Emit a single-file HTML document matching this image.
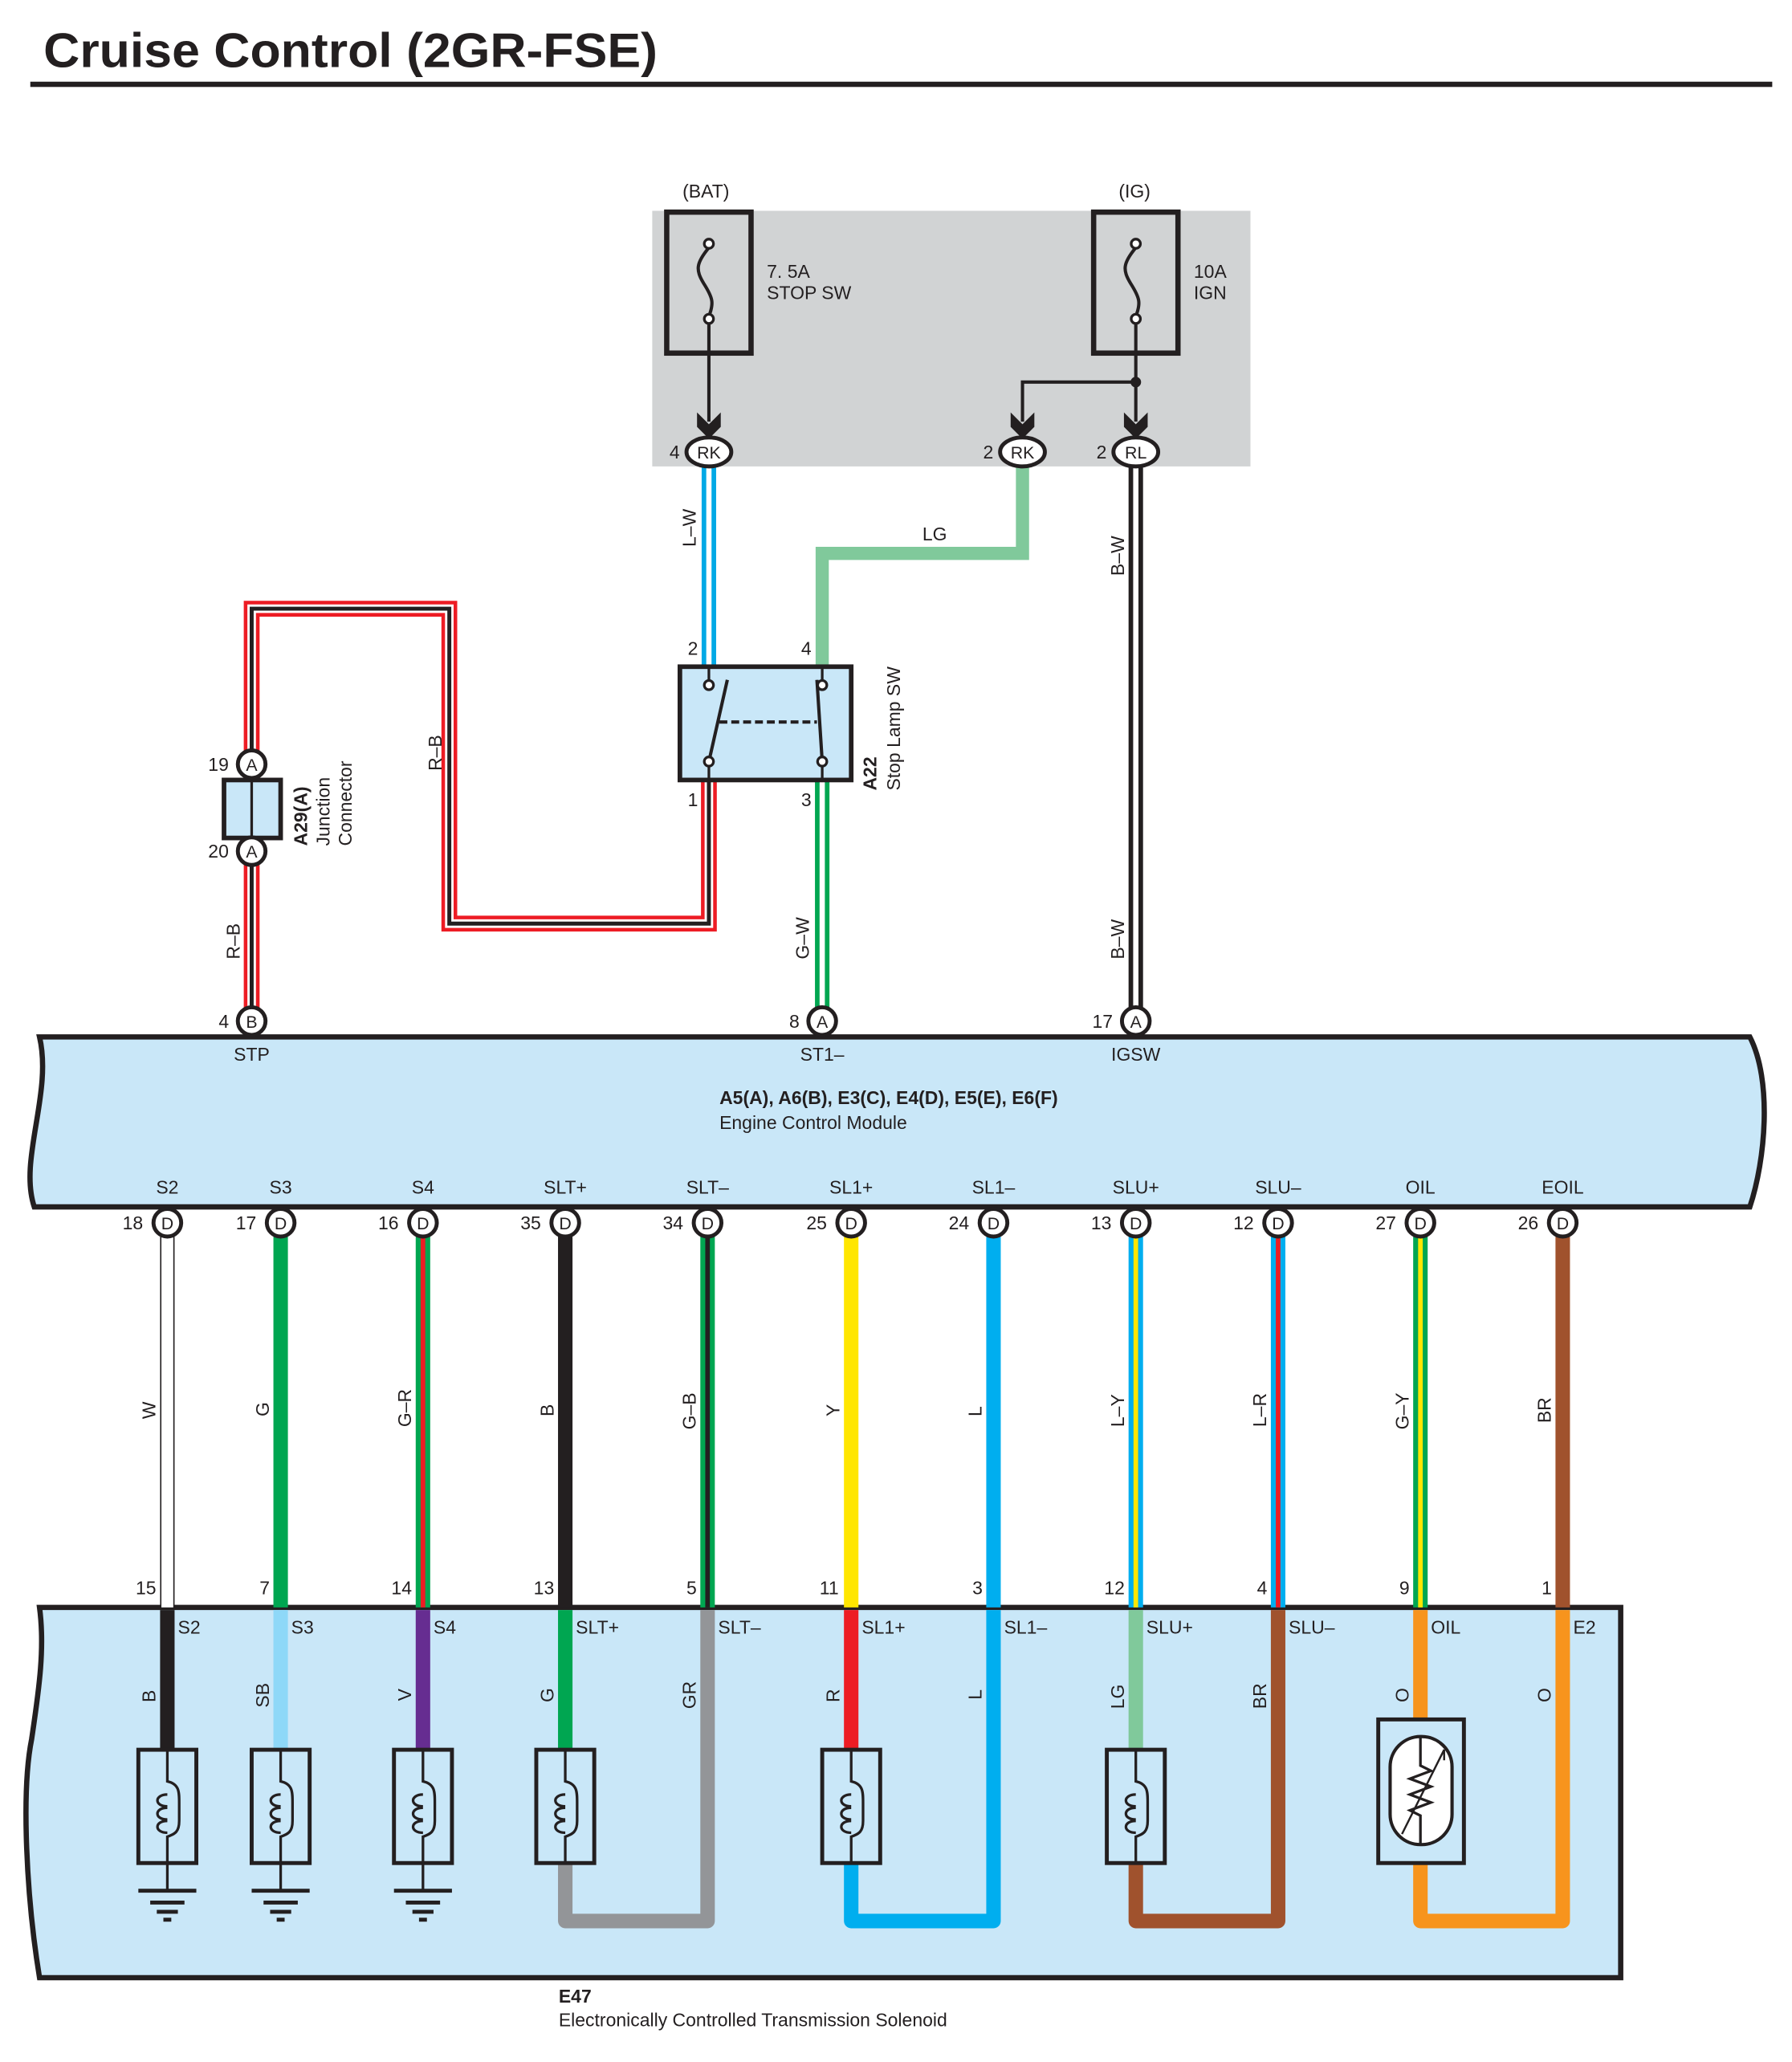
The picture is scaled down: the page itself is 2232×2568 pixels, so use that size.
<!DOCTYPE html>
<html><head><meta charset="utf-8"><style>
html,body{margin:0;padding:0;background:#fff;}
svg{display:block;}
text{font-family:"Liberation Sans",sans-serif;fill:#231f20;}
.t{font-size:14px;}
.c{font-size:13px;text-anchor:middle;}
</style></head><body>
<svg width="2232" height="2568" viewBox="0 0 1360 1565" preserveAspectRatio="none" xmlns="http://www.w3.org/2000/svg">
<defs>
<g id="conn"><circle r="10.5" fill="#fff" stroke="#231f20" stroke-width="3"/></g>
<g id="sol"><rect x="-22" y="0" width="44" height="86" fill="#c9e7f8" stroke="#231f20" stroke-width="3"/>
<path d="M0 0 V24 C9 26 9 32 9 40 V54 C9 62 6 64 0 66 V86" fill="none" stroke="#231f20" stroke-width="2"/>
<path d="M0 34 c-10 0 -10 9 0 9 M0 44 c-10 0 -10 9 0 9 M0 54 c-10 0 -10 9 0 9" fill="none" stroke="#231f20" stroke-width="2"/></g>
<g id="gnd"><line x1="0" y1="0" x2="0" y2="21" stroke="#231f20" stroke-width="2"/><line x1="-22" y1="21" x2="22" y2="21" stroke="#231f20" stroke-width="3"/><line x1="-13" y1="30" x2="13" y2="30" stroke="#231f20" stroke-width="3"/><line x1="-8" y1="37" x2="8" y2="37" stroke="#231f20" stroke-width="3"/><line x1="-3" y1="43" x2="3" y2="43" stroke="#231f20" stroke-width="3"/></g>
</defs>

<text x="33" y="51" style="font-size:37px;font-weight:bold" textLength="466" lengthAdjust="spacingAndGlyphs">Cruise Control (2GR-FSE)</text>
<rect x="23" y="62" width="1322" height="4" fill="#231f20"/>

<!-- top junction block -->
<rect x="495" y="160" width="454" height="194" fill="#d1d3d4"/>
<rect x="506" y="161" width="64" height="107" fill="none" stroke="#231f20" stroke-width="4"/>
<rect x="830" y="161" width="64" height="107" fill="none" stroke="#231f20" stroke-width="4"/>
<path d="M538 188 C528 200 528 205 534 215 C541 226 542 230 538 240" fill="none" stroke="#231f20" stroke-width="2.5"/>
<path d="M862 188 C852 200 852 205 858 215 C865 226 866 230 862 240" fill="none" stroke="#231f20" stroke-width="2.5"/>
<circle cx="538" cy="185" r="3.5" fill="#fff" stroke="#231f20" stroke-width="2"/>
<circle cx="538" cy="242" r="3.5" fill="#fff" stroke="#231f20" stroke-width="2"/>
<circle cx="862" cy="185" r="3.5" fill="#fff" stroke="#231f20" stroke-width="2"/>
<circle cx="862" cy="242" r="3.5" fill="#fff" stroke="#231f20" stroke-width="2"/>
<text x="518" y="150" class="t">(BAT)</text>
<text x="849" y="150" class="t">(IG)</text>
<text x="582" y="211" class="t">7. 5A</text><text x="582" y="227" class="t">STOP SW</text>
<text x="906" y="211" class="t">10A</text><text x="906" y="227" class="t">IGN</text>
<path d="M538 246 V320 M862 246 V320 M862 290 H776 V320" fill="none" stroke="#231f20" stroke-width="2.5"/>
<circle cx="862" cy="290" r="4" fill="#231f20"/>
<g fill="#231f20">
<path d="M529 313 L538 322 L547 313 L547 324 L538 333 L529 324Z"/>
<path d="M767 313 L776 322 L785 313 L785 324 L776 333 L767 324Z"/>
<path d="M853 313 L862 322 L871 313 L871 324 L862 333 L853 324Z"/>
</g>

<!-- wires top -->
<path d="M538 355 V505" stroke="#00a9e6" stroke-width="11" fill="none"/><path d="M538 355 V505" stroke="#fff" stroke-width="4" fill="none"/>
<path d="M776 355 V420 H624 V505" stroke="#80c99b" stroke-width="10" fill="none"/>
<path d="M862 355 V765" stroke="#231f20" stroke-width="11" fill="none"/><path d="M862 355 V765" stroke="#fff" stroke-width="4" fill="none"/>
<path d="M624 593 V765" stroke="#00a651" stroke-width="11" fill="none"/><path d="M624 593 V765" stroke="#fff" stroke-width="4" fill="none"/>
<path d="M538 593 V701 H341 V462 H191 V765" stroke="#ed1c24" stroke-width="12" fill="none"/>
<path d="M538 593 V701 H341 V462 H191 V765" stroke="#fff" stroke-width="6.5" fill="none"/>
<path d="M538 593 V701 H341 V462 H191 V765" stroke="#231f20" stroke-width="3" fill="none"/>

<g class="c">
<ellipse cx="538" cy="343" rx="17" ry="11" fill="#fff" stroke="#231f20" stroke-width="3"/><text x="538" y="348" class="c">RK</text><text x="512" y="348" class="t" text-anchor="middle">4</text>
<ellipse cx="776" cy="343" rx="17" ry="11" fill="#fff" stroke="#231f20" stroke-width="3"/><text x="776" y="348" class="c">RK</text><text x="750" y="348" class="t" text-anchor="middle">2</text>
<ellipse cx="862" cy="343" rx="17" ry="11" fill="#fff" stroke="#231f20" stroke-width="3"/><text x="862" y="348" class="c">RL</text><text x="836" y="348" class="t" text-anchor="middle">2</text>
</g>
<text transform="translate(528,415) rotate(-90)" class="t">L–W</text>
<text x="700" y="410" class="t">LG</text>
<text transform="translate(853,437) rotate(-90)" class="t">B–W</text>
<text transform="translate(853,728) rotate(-90)" class="t">B–W</text>
<text transform="translate(614,728) rotate(-90)" class="t">G–W</text>
<text transform="translate(335,585) rotate(-90)" class="t">R–B</text>
<text transform="translate(182,728) rotate(-90)" class="t">R–B</text>

<!-- stop lamp switch -->
<rect x="516" y="506" width="130" height="86" fill="#c9e7f8" stroke="#231f20" stroke-width="3.5"/>
<path d="M538 506 V516 M624 506 V516 M538 582 V592 M624 582 V592" stroke="#231f20" stroke-width="2"/>
<path d="M538 578 L552 516 M624 578 L620 516" stroke="#231f20" stroke-width="2.5"/>
<line x1="546" y1="548" x2="620" y2="548" stroke="#231f20" stroke-width="2.5" stroke-dasharray="6,3"/>
<circle cx="538" cy="520" r="3.5" fill="#fff" stroke="#231f20" stroke-width="2"/>
<circle cx="624" cy="520" r="3.5" fill="#fff" stroke="#231f20" stroke-width="2"/>
<circle cx="538" cy="578" r="3.5" fill="#fff" stroke="#231f20" stroke-width="2"/>
<circle cx="624" cy="578" r="3.5" fill="#fff" stroke="#231f20" stroke-width="2"/>
<text x="522" y="497" class="t">2</text><text x="608" y="497" class="t">4</text>
<text x="522" y="612" class="t">1</text><text x="608" y="612" class="t">3</text>
<text transform="translate(665,600) rotate(-90)" class="t" style="font-weight:bold">A22</text>
<text transform="translate(683,600) rotate(-90)" class="t">Stop Lamp SW</text>

<!-- junction connector -->
<rect x="170" y="592" width="43" height="44" fill="#c9e7f8" stroke="#231f20" stroke-width="3.5"/>
<line x1="191" y1="592" x2="191" y2="636" stroke="#231f20" stroke-width="2"/>
<use href="#conn" x="191" y="580"/><text x="191" y="585" class="c">A</text><text x="158" y="585" class="t">19</text>
<use href="#conn" x="191" y="646"/><text x="191" y="651" class="c">A</text><text x="158" y="651" class="t">20</text>
<text transform="translate(233,642) rotate(-90)" class="t" style="font-weight:bold">A29(A)</text>
<text transform="translate(250,642) rotate(-90)" class="t">Junction</text>
<text transform="translate(267,642) rotate(-90)" class="t">Connector</text>

<!-- ECM -->
<path d="M30 787 H1328 C1345 820 1340 880 1328 916 H26 C14 880 40 830 30 787Z" fill="#c9e7f8" stroke="#231f20" stroke-width="4"/>
<use href="#conn" x="191" y="775"/><text x="191" y="780" class="c">B</text><text x="166" y="780" class="t">4</text>
<use href="#conn" x="624" y="775"/><text x="624" y="780" class="c">A</text><text x="599" y="780" class="t">8</text>
<use href="#conn" x="862" y="775"/><text x="862" y="780" class="c">A</text><text x="829" y="780" class="t">17</text>
<text x="191" y="805" class="c" style="font-size:14px">STP</text>
<text x="624" y="805" class="c" style="font-size:14px">ST1–</text>
<text x="862" y="805" class="c" style="font-size:14px">IGSW</text>
<text x="546" y="838" class="t" style="font-weight:bold">A5(A), A6(B), E3(C), E4(D), E5(E), E6(F)</text>
<text x="546" y="857" class="t">Engine Control Module</text>

<!-- E47 box -->
<path d="M30 1220 H1230 V1501 H30 C20 1440 16 1360 24 1320 C30 1280 34 1250 30 1220Z" fill="#c9e7f8" stroke="#231f20" stroke-width="4"/>

<!-- lower wires (ECM side) -->
<path d="M127 938 V1220" stroke="#231f20" stroke-width="11"/><path d="M127 938 V1220" stroke="#fff" stroke-width="9"/>
<path d="M213 938 V1220" stroke="#00a651" stroke-width="11"/>
<path d="M321 938 V1220" stroke="#00a651" stroke-width="11"/><path d="M321 938 V1220" stroke="#ed1c24" stroke-width="3.5"/>
<path d="M429 938 V1220" stroke="#231f20" stroke-width="11"/>
<path d="M537 938 V1220" stroke="#00a651" stroke-width="11"/><path d="M537 938 V1220" stroke="#231f20" stroke-width="3.5"/>
<path d="M646 938 V1220" stroke="#ffe600" stroke-width="11"/>
<path d="M754 938 V1220" stroke="#00aeef" stroke-width="11"/>
<path d="M862 938 V1220" stroke="#00aeef" stroke-width="11"/><path d="M862 938 V1220" stroke="#ffe600" stroke-width="3.5"/>
<path d="M970 938 V1220" stroke="#00aeef" stroke-width="11"/><path d="M970 938 V1220" stroke="#ed1c24" stroke-width="3.5"/>
<path d="M1078 938 V1220" stroke="#00a651" stroke-width="11"/><path d="M1078 938 V1220" stroke="#ffe600" stroke-width="3.5"/>
<path d="M1186 938 V1220" stroke="#a0522d" stroke-width="11"/>

<!-- internal wires -->
<g fill="none" stroke-width="11" stroke-linejoin="round">
<path d="M127 1222 V1328" stroke="#231f20"/>
<path d="M213 1222 V1328" stroke="#8ed8f8"/>
<path d="M321 1222 V1328" stroke="#662d91"/>
<path d="M429 1222 V1328" stroke="#00a651"/>
<path d="M429 1414 V1458 H537 V1222" stroke="#939598"/>
<path d="M646 1222 V1328" stroke="#ed1c24"/>
<path d="M646 1414 V1458 H754 V1222" stroke="#00aeef"/>
<path d="M862 1222 V1328" stroke="#80c99b"/>
<path d="M862 1414 V1458 H970 V1222" stroke="#a0522d"/>
<path d="M1078 1222 V1305 M1078 1414 V1458 H1186 V1222" stroke="#f7941d"/>
</g>
<use href="#sol" x="127" y="1328"/><use href="#sol" x="213" y="1328"/><use href="#sol" x="321" y="1328"/>
<use href="#sol" x="429" y="1328"/><use href="#sol" x="646" y="1328"/><use href="#sol" x="862" y="1328"/>
<use href="#gnd" x="127" y="1414"/><use href="#gnd" x="213" y="1414"/><use href="#gnd" x="321" y="1414"/>
<!-- oil temp sensor -->
<rect x="1046" y="1305" width="65" height="109" fill="#c9e7f8" stroke="#231f20" stroke-width="3"/>
<rect x="1055" y="1318" width="47" height="82" rx="23" fill="#fff" stroke="#231f20" stroke-width="2.5"/>
<path d="M1078 1318 V1340 L1086 1344 L1070 1350 L1086 1356 L1070 1362 L1086 1368 L1070 1374 L1078 1378 V1400" fill="none" stroke="#231f20" stroke-width="2"/>
<path d="M1064 1392 L1096 1328 L1096 1336" fill="none" stroke="#231f20" stroke-width="1.5"/>

<!-- ECM connectors and labels -->
<g>
<use href="#conn" x="127" y="928"/><text x="127" y="933" class="c">D</text><text x="93" y="933" class="t">18</text><text x="127" y="906" class="c" style="font-size:14px">S2</text>
<use href="#conn" x="213" y="928"/><text x="213" y="933" class="c">D</text><text x="179" y="933" class="t">17</text><text x="213" y="906" class="c" style="font-size:14px">S3</text>
<use href="#conn" x="321" y="928"/><text x="321" y="933" class="c">D</text><text x="287" y="933" class="t">16</text><text x="321" y="906" class="c" style="font-size:14px">S4</text>
<use href="#conn" x="429" y="928"/><text x="429" y="933" class="c">D</text><text x="395" y="933" class="t">35</text><text x="429" y="906" class="c" style="font-size:14px">SLT+</text>
<use href="#conn" x="537" y="928"/><text x="537" y="933" class="c">D</text><text x="503" y="933" class="t">34</text><text x="537" y="906" class="c" style="font-size:14px">SLT–</text>
<use href="#conn" x="646" y="928"/><text x="646" y="933" class="c">D</text><text x="612" y="933" class="t">25</text><text x="646" y="906" class="c" style="font-size:14px">SL1+</text>
<use href="#conn" x="754" y="928"/><text x="754" y="933" class="c">D</text><text x="720" y="933" class="t">24</text><text x="754" y="906" class="c" style="font-size:14px">SL1–</text>
<use href="#conn" x="862" y="928"/><text x="862" y="933" class="c">D</text><text x="828" y="933" class="t">13</text><text x="862" y="906" class="c" style="font-size:14px">SLU+</text>
<use href="#conn" x="970" y="928"/><text x="970" y="933" class="c">D</text><text x="936" y="933" class="t">12</text><text x="970" y="906" class="c" style="font-size:14px">SLU–</text>
<use href="#conn" x="1078" y="928"/><text x="1078" y="933" class="c">D</text><text x="1044" y="933" class="t">27</text><text x="1078" y="906" class="c" style="font-size:14px">OIL</text>
<use href="#conn" x="1186" y="928"/><text x="1186" y="933" class="c">D</text><text x="1152" y="933" class="t">26</text><text x="1186" y="906" class="c" style="font-size:14px">EOIL</text>
</g>
<!-- wire color labels -->
<g class="t">
<text transform="translate(118,1077) rotate(-90)">W</text>
<text transform="translate(204,1075) rotate(-90)">G</text>
<text transform="translate(312,1083) rotate(-90)">G–R</text>
<text transform="translate(420,1075) rotate(-90)">B</text>
<text transform="translate(528,1085) rotate(-90)">G–B</text>
<text transform="translate(637,1075) rotate(-90)">Y</text>
<text transform="translate(745,1075) rotate(-90)">L</text>
<text transform="translate(853,1083) rotate(-90)">L–Y</text>
<text transform="translate(961,1083) rotate(-90)">L–R</text>
<text transform="translate(1069,1085) rotate(-90)">G–Y</text>
<text transform="translate(1177,1080) rotate(-90)">BR</text>
</g>
<g class="t">
<text x="103" y="1210">15</text><text x="197" y="1210">7</text><text x="297" y="1210">14</text><text x="405" y="1210">13</text>
<text x="521" y="1210">5</text><text x="622" y="1210">11</text><text x="738" y="1210">3</text><text x="838" y="1210">12</text>
<text x="954" y="1210">4</text><text x="1062" y="1210">9</text><text x="1170" y="1210">1</text>
<text x="135" y="1240">S2</text><text x="221" y="1240">S3</text><text x="329" y="1240">S4</text><text x="437" y="1240">SLT+</text>
<text x="545" y="1240">SLT–</text><text x="654" y="1240">SL1+</text><text x="762" y="1240">SL1–</text><text x="870" y="1240">SLU+</text>
<text x="978" y="1240">SLU–</text><text x="1086" y="1240">OIL</text><text x="1194" y="1240">E2</text>
</g>
<g class="t">
<text transform="translate(118,1292) rotate(-90)">B</text>
<text transform="translate(204,1296) rotate(-90)">SB</text>
<text transform="translate(312,1291) rotate(-90)">V</text>
<text transform="translate(420,1292) rotate(-90)">G</text>
<text transform="translate(528,1297) rotate(-90)">GR</text>
<text transform="translate(637,1292) rotate(-90)">R</text>
<text transform="translate(745,1290) rotate(-90)">L</text>
<text transform="translate(853,1297) rotate(-90)">LG</text>
<text transform="translate(961,1297) rotate(-90)">BR</text>
<text transform="translate(1069,1292) rotate(-90)">O</text>
<text transform="translate(1177,1292) rotate(-90)">O</text>
</g>
<text x="424" y="1520" class="t" style="font-weight:bold">E47</text>
<text x="424" y="1538" class="t">Electronically Controlled Transmission Solenoid</text>
</svg>
</body></html>
